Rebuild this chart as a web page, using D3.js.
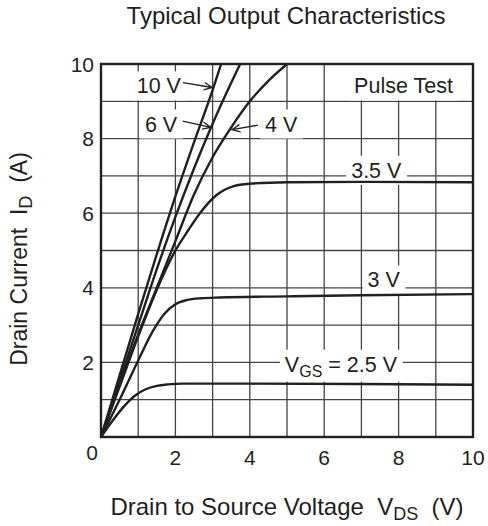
<!DOCTYPE html>
<html><head><meta charset="utf-8">
<script src="https://cdn.jsdelivr.net/npm/d3@7"></script>
<style>
body{margin:0;background:#fff}
text{font-family:"Liberation Sans",Arial,sans-serif;fill:#231f20}
</style>
</head><body>
<svg id="c" width="488" height="526"></svg>
<script>
// ---- data (V_DS in volts, I_D in amperes) ----
const xTicks = [0, 2, 4, 6, 8, 10];
const yTicks = [0, 2, 4, 6, 8, 10];
const gridValues = [1, 2, 3, 4, 5, 6, 7, 8, 9];

const curve10V  = [[0,0],[0.5,1.65],[1,3.3],[1.5,4.9],[2,6.45],[2.5,7.9],[3,9.3],[3.23,10]];
const curve6V   = [[0,0],[0.5,1.5],[1,3.0],[1.5,4.5],[2,5.9],[2.5,7.2],[3,8.4],[3.5,9.5],[3.74,10]];
const curve4V   = [[0,0],[0.5,1.4],[1,2.75],[1.5,4.0],[2,5.25],[2.5,6.5],[3,7.5],[3.5,8.3],[4,9.0],[4.5,9.55],[5,10]];
const curve3p5V = [[0,0],[0.5,1.35],[1,2.7],[1.5,3.95],[2,5.0],[2.35,5.55],[2.66,6.0],[3.1,6.48],[3.55,6.72],[4,6.79],[5,6.83],[7,6.84],[10,6.83]];
const curve3V   = [[0,0],[0.5,1.0],[1,2.05],[1.4,2.85],[1.7,3.3],[2.0,3.56],[2.3,3.67],[2.7,3.72],[3.2,3.74],[5,3.77],[7,3.8],[10,3.83]];
const curve2p5V = [[0,0],[0.3,0.42],[0.6,0.8],[0.9,1.1],[1.2,1.28],[1.5,1.37],[1.8,1.41],[2.2,1.43],[4,1.43],[7,1.42],[10,1.4]];
const curves = [curve10V, curve6V, curve4V, curve3p5V, curve3V, curve2p5V];

// annotation text & anchor points (data units)
const labelTexts  = ["10 V", "6 V", "4 V", "Pulse Test", "3.5 V", "3 V", "2.5 V"];
const labelPos    = [[0.96,9.21],[1.18,8.19],[4.41,8.19],[9.46,9.21],[7.4,6.95],[7.6,4.01],[6.45,1.75]];
const labelAnchor = ["start","start","start","end","middle","middle","middle"];
const arrows = [ // [from, to] for the 10 V, 6 V, 4 V callouts
  [[2.2,9.5],[2.99,9.37]],
  [[2.2,8.47],[2.95,8.3]],
  [[4.22,8.36],[3.52,8.24]]
];

// ---- drawing ----
const svg = d3.select("#c");
const x = d3.scaleLinear().domain([0,10]).range([101,473]);
const y = d3.scaleLinear().domain([0,10]).range([437,64]);
const ink = "#231f20";

// grid
const g = svg.append("g");
g.selectAll(".vg").data(gridValues).join("line")
  .attr("x1", d=>x(d)).attr("x2", d=>x(d)).attr("y1", y(0)).attr("y2", y(10))
  .attr("stroke", "#444").attr("stroke-width", 1.3);
g.selectAll(".hg").data(gridValues).join("line")
  .attr("y1", d=>y(d)).attr("y2", d=>y(d)).attr("x1", x(0)).attr("x2", x(10))
  .attr("stroke", "#444").attr("stroke-width", 1.3);

const boxLayer = svg.append("g");
const curveLayer = svg.append("g");
const textLayer = svg.append("g");

const lbls = labelTexts.map((t,i)=>({t, p:labelPos[i], a:labelAnchor[i]}));
lbls.forEach(d=>{
  const tx = textLayer.append("text")
    .attr("x", x(d.p[0])).attr("y", y(d.p[1]))
    .attr("text-anchor", d.a).attr("font-size", 21.5);
  if (d.t === "2.5 V") {
    tx.append("tspan").text("V");
    tx.append("tspan").text("GS").attr("font-size", 16).attr("dy", 5);
    tx.append("tspan").text(" = 2.5 V").attr("dy", -5);
  } else tx.text(d.t);
  const b = tx.node().getBBox();
  let top = b.y - 3, bot = b.y + b.height + 2;
  if (d.t === "Pulse Test") top = y(10);
  boxLayer.append("rect")
    .attr("x", b.x - 5).attr("y", top)
    .attr("width", b.width + 10).attr("height", bot - top)
    .attr("fill", "#fff");
});

// curves
const line = d3.line().x(d=>x(d[0])).y(d=>y(d[1])).curve(d3.curveMonotoneX);
svg.append("clipPath").attr("id","clip").append("rect")
  .attr("x", x(0)).attr("y", y(10)).attr("width", x(10)-x(0)).attr("height", y(0)-y(10));
curveLayer.attr("clip-path","url(#clip)")
  .selectAll("path").data(curves).join("path")
  .attr("d", line).attr("fill","none").attr("stroke", ink)
  .attr("stroke-width", 2.4).attr("stroke-linejoin","round");

// arrows
arrows.forEach(([f,t])=>{
  const x1=x(f[0]), y1=y(f[1]), x2=x(t[0]), y2=y(t[1]);
  const ang = Math.atan2(y2-y1, x2-x1), L = 9, w = 0.42;
  const a1 = [x2 - L*Math.cos(ang-w), y2 - L*Math.sin(ang-w)];
  const a2 = [x2 - L*Math.cos(ang+w), y2 - L*Math.sin(ang+w)];
  textLayer.append("path")
    .attr("d", `M${x1},${y1}L${x2},${y2}M${a1[0]},${a1[1]}L${x2},${y2}L${a2[0]},${a2[1]}`)
    .attr("fill","none").attr("stroke", ink).attr("stroke-width", 1.3);
});

// frame
svg.append("rect").attr("x", x(0)).attr("y", y(10))
  .attr("width", x(10)-x(0)).attr("height", y(0)-y(10))
  .attr("fill","none").attr("stroke", ink).attr("stroke-width", 2.4);

// tick labels
svg.append("g").selectAll("text").data(xTicks.filter(d=>d>0)).join("text")
  .attr("x", d=>x(d)).attr("y", y(0)+28).attr("text-anchor","middle")
  .attr("font-size", 21).text(d=>d);
svg.append("g").selectAll("text").data(yTicks.filter(d=>d>0)).join("text")
  .attr("x", x(0)-7).attr("y", d=>y(d)+7.5).attr("text-anchor","end")
  .attr("font-size", 21).text(d=>d);
svg.append("text").attr("x", x(0)-9).attr("y", y(0)+23).attr("text-anchor","middle")
  .attr("font-size", 21).text(xTicks[0]);

// titles
svg.append("text").attr("x", 286).attr("y", 24).attr("text-anchor","middle")
  .attr("font-size", 24).text("Typical Output Characteristics");

const xt = svg.append("text").attr("x", 287).attr("y", 515).attr("text-anchor","middle")
  .attr("font-size", 24);
xt.append("tspan").text("Drain to Source Voltage\u00a0\u00a0V");
xt.append("tspan").text("DS").attr("font-size", 18).attr("dy", 5);
xt.append("tspan").text("\u00a0\u00a0(V)").attr("dy", -5);

const yt = svg.append("text").attr("transform","translate(27,259) rotate(-90)")
  .attr("text-anchor","middle").attr("font-size", 23);
yt.append("tspan").text("Drain Current\u00a0\u00a0I");
yt.append("tspan").text("D").attr("font-size", 18).attr("dy", 5);
yt.append("tspan").text("\u00a0\u00a0(A)").attr("dy", -5);
</script>
</body></html>
